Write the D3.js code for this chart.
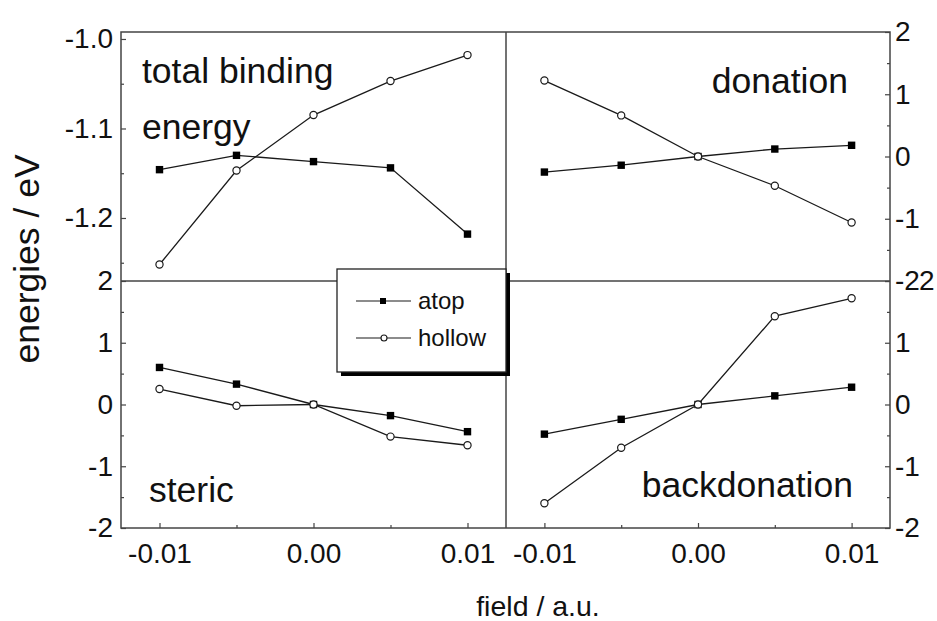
<!DOCTYPE html>
<meta charset="utf-8">
<script src="https://d3js.org/d3.v7.min.js"></script>
<style>
  body { margin: 0; background: #fff; }
  text { font-family: "Liberation Sans", Arial, sans-serif; fill: #111; }
</style>
<div id="chart"></div>
<script>

// field values (a.u.) shared by all four panels
var fields = [-0.01, -0.005, 0, 0.005, 0.01];

// energies in eV
var totalAtop      = [-1.146, -1.130, -1.137, -1.144, -1.218];
var totalHollow    = [-1.252, -1.147, -1.085, -1.047, -1.018];
var donationAtop   = [-0.25, -0.14, 0, 0.12, 0.18];
var donationHollow = [1.22, 0.66, 0, -0.47, -1.06];
var stericAtop     = [0.60, 0.33, 0, -0.18, -0.44];
var stericHollow   = [0.25, -0.02, 0, -0.52, -0.66];
var backAtop       = [-0.48, -0.24, 0, 0.14, 0.28];
var backHollow     = [-1.60, -0.70, 0, 1.43, 1.72];

// ticks
var xTicks = [-0.01, 0, 0.01];
var xMinor = [-0.005, 0.005];
var totalTicks = [-1.2, -1.1, -1.0];
var totalMinor = [-1.25, -1.15, -1.05];
var unitTicks = [-2, -1, 0, 1, 2];
var unitMinor = [-1.5, -0.5, 0.5, 1.5];

var seriesNames = ["atop", "hollow"];

// outer frame of the 2x2 grid
var W = 937, H = 621;
var frameL = 121, frameR = 890, midX = 506,
    frameT = 32, frameB = 528, midY = 281;

var svg = d3.select("#chart")
  .append("svg")
    .attr("width", W)
    .attr("height", H);

var hyphen = function(f) { return function(d) { return f(d).replace("\u2212", "-"); }; };

var panels = [
  { name: "total", atop: totalAtop, hollow: totalHollow, side: "left",
    xr: [frameL, midX], yr: [midY, frameT], yd: [-1.2704, -0.9922],
    ticks: totalTicks, minor: totalMinor, fmt: hyphen(d3.format(".1f")), xAxis: false },
  { name: "donation", atop: donationAtop, hollow: donationHollow, side: "right",
    xr: [midX, frameR], yr: [midY, frameT], yd: [-2, 2],
    ticks: unitTicks, minor: unitMinor, fmt: hyphen(d3.format("d")), xAxis: false },
  { name: "steric", atop: stericAtop, hollow: stericHollow, side: "left",
    xr: [frameL, midX], yr: [frameB, midY], yd: [-2, 2],
    ticks: unitTicks, minor: unitMinor, fmt: hyphen(d3.format("d")), xAxis: true },
  { name: "backdonation", atop: backAtop, hollow: backHollow, side: "right",
    xr: [midX, frameR], yr: [frameB, midY], yd: [-2, 2],
    ticks: unitTicks, minor: unitMinor, fmt: hyphen(d3.format("d")), xAxis: true }
];

var lineColor = "#1a1a1a";
var tickSize = "28px";

panels.forEach(function(p) {
  var x = d3.scaleLinear().domain([-0.0125, 0.0125]).range(p.xr);
  var y = d3.scaleLinear().domain(p.yd).range(p.yr);

  // y axis, ticks pointing inward
  var g;
  if (p.side === "left") {
    g = svg.append("g").attr("transform", "translate(" + frameL + ",0)")
      .call(d3.axisLeft(y).tickValues(p.ticks).tickFormat(p.fmt).tickSize(-5).tickPadding(8));
    svg.append("g").attr("transform", "translate(" + frameL + ",0)")
      .call(d3.axisLeft(y).tickValues(p.minor).tickFormat("").tickSize(-3))
      .select(".domain").remove();
  } else {
    g = svg.append("g").attr("transform", "translate(" + frameR + ",0)")
      .call(d3.axisRight(y).tickValues(p.ticks).tickFormat(p.fmt).tickSize(-5).tickPadding(5));
    svg.append("g").attr("transform", "translate(" + frameR + ",0)")
      .call(d3.axisRight(y).tickValues(p.minor).tickFormat("").tickSize(-3))
      .select(".domain").remove();
  }
  g.select(".domain").remove();
  g.selectAll("text").style("font-size", tickSize).attr("fill", "#111");

  // the top "2" of the lower right axis sits after the "-2" of the upper one
  if (p.name === "backdonation") {
    g.selectAll(".tick text").filter(function(d) { return d === 2; }).attr("dx", 24);
  }

  // x axis only at the bottom
  if (p.xAxis) {
    var gx = svg.append("g").attr("transform", "translate(0," + frameB + ")")
      .call(d3.axisBottom(x).tickValues(xTicks).tickFormat(hyphen(d3.format(".2f"))).tickSize(-5).tickPadding(15));
    gx.select(".domain").remove();
    gx.selectAll("text").style("font-size", tickSize).attr("fill", "#111");
    svg.append("g").attr("transform", "translate(0," + frameB + ")")
      .call(d3.axisBottom(x).tickValues(xMinor).tickFormat("").tickSize(-3))
      .select(".domain").remove();
  }

  var line = d3.line()
    .x(function(d, i) { return x(fields[i]); })
    .y(function(d) { return y(d); });

  seriesNames.forEach(function(s) {
    svg.append("path")
      .datum(p[s])
      .attr("d", line)
      .attr("fill", "none")
      .attr("stroke", lineColor)
      .attr("stroke-width", 1.3);
  });

  svg.selectAll(".sq-" + p.name)
    .data(p.atop)
    .enter().append("rect")
      .attr("class", "sq-" + p.name)
      .attr("x", function(d, i) { return x(fields[i]) - 3.7; })
      .attr("y", function(d) { return y(d) - 3.7; })
      .attr("width", 7.4)
      .attr("height", 7.4)
      .attr("fill", "#000");

  svg.selectAll(".ci-" + p.name)
    .data(p.hollow)
    .enter().append("circle")
      .attr("class", "ci-" + p.name)
      .attr("cx", function(d, i) { return x(fields[i]); })
      .attr("cy", function(d) { return y(d); })
      .attr("r", 3.6)
      .attr("fill", "#fff")
      .attr("stroke", lineColor)
      .attr("stroke-width", 1.2);
});

svg.selectAll(".tick line").attr("stroke", "#444").attr("stroke-width", 1.2);

// frame and dividing lines
svg.append("rect")
  .attr("x", frameL).attr("y", frameT)
  .attr("width", frameR - frameL).attr("height", frameB - frameT)
  .attr("fill", "none").attr("stroke", "#444").attr("stroke-width", 1.5);
svg.append("line")
  .attr("x1", midX).attr("x2", midX).attr("y1", frameT).attr("y2", frameB)
  .attr("stroke", "#444").attr("stroke-width", 1.5);
svg.append("line")
  .attr("x1", frameL).attr("x2", frameR).attr("y1", midY).attr("y2", midY)
  .attr("stroke", "#444").attr("stroke-width", 1.5);

// panel labels
var labelSize = "35.5px";
svg.append("text").attr("x", 142).attr("y", 83).style("font-size", labelSize).text("total binding");
svg.append("text").attr("x", 142).attr("y", 139).style("font-size", labelSize).text("energy");
svg.append("text").attr("x", 848).attr("y", 93).attr("text-anchor", "end").style("font-size", labelSize).text("donation");
svg.append("text").attr("x", 149).attr("y", 502).style("font-size", labelSize).text("steric");
svg.append("text").attr("x", 853).attr("y", 497).attr("text-anchor", "end").style("font-size", labelSize).text("backdonation");

// axis titles
svg.append("text")
  .attr("transform", "translate(39,259) rotate(-90)")
  .attr("text-anchor", "middle")
  .style("font-size", "35.5px")
  .text("energies / eV");
svg.append("text")
  .attr("x", 538).attr("y", 616)
  .attr("text-anchor", "middle")
  .style("font-size", "28.5px")
  .text("field / a.u.");

// legend with drop shadow
var lg = svg.append("g").attr("transform", "translate(337,269)");
lg.append("rect").attr("x", 4).attr("y", 4).attr("width", 169).attr("height", 103).attr("fill", "#000");
lg.append("rect").attr("width", 169).attr("height", 103)
  .attr("fill", "#fff").attr("stroke", "#222").attr("stroke-width", 1.3);

var items = lg.selectAll(".item")
  .data(seriesNames)
  .enter().append("g")
    .attr("transform", function(d, i) { return "translate(0," + (32 + i * 37) + ")"; });
items.append("line")
  .attr("x1", 19).attr("x2", 74)
  .attr("stroke", lineColor).attr("stroke-width", 1.2);
items.filter(function(d) { return d === "atop"; }).append("rect")
  .attr("x", 43).attr("y", -3).attr("width", 6).attr("height", 6).attr("fill", "#000");
items.filter(function(d) { return d === "hollow"; }).append("circle")
  .attr("cx", 47).attr("r", 3).attr("fill", "#fff").attr("stroke", lineColor).attr("stroke-width", 1.1);
items.append("text")
  .attr("x", 81).attr("dy", "0.35em")
  .style("font-size", "24px")
  .text(function(d) { return d; });

</script>
